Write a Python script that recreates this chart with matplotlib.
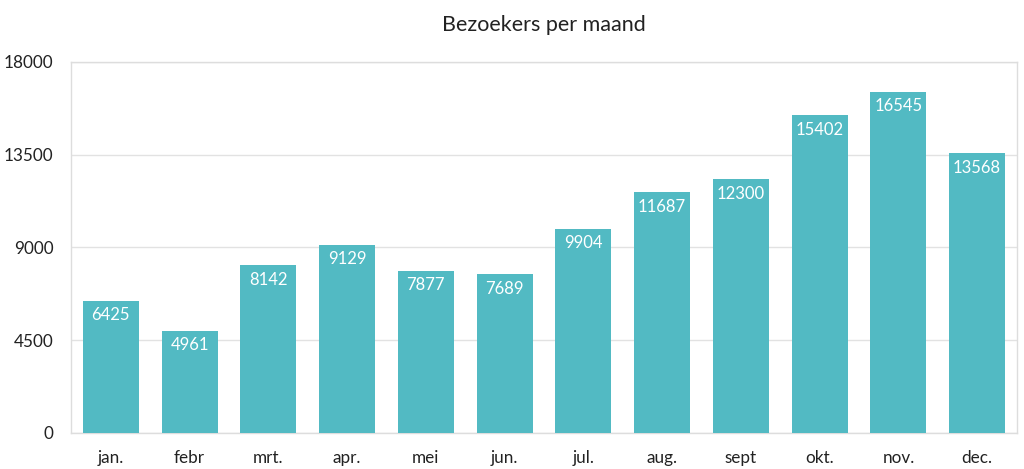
import matplotlib

matplotlib.use("Agg")
import matplotlib.pyplot as plt

plt.rcParams["font.family"] = ["Lato", "DejaVu Sans"]

months = ["jan.", "febr", "mrt.", "apr.", "mei", "jun.", "jul.", "aug.", "sept", "okt.", "nov.", "dec."]
visitors = [6425, 4961, 8142, 9129, 7877, 7689, 9904, 11687, 12300, 15402, 16545, 13568]
y_ticks = [0, 4500, 9000, 13500, 18000]

fig = plt.figure(figsize=(10.24, 4.69), dpi=100)
ax = fig.add_axes([0.0698, 0.0768, 0.9229, 0.7912])

x_positions = range(len(months))
bars = ax.bar(x_positions, visitors, color="#52BAC3", width=0.71, zorder=3)

for bar, value in zip(bars, visitors):
    ax.annotate(
        str(value),
        (bar.get_x() + bar.get_width() / 2, bar.get_height()),
        xytext=(0, -10.5),
        textcoords="offset points",
        ha="center",
        va="center",
        color="white",
        fontsize=12,
        zorder=4,
    )

ax.set_xlim(-0.5, len(months) - 0.5)
ax.set_ylim(0, 18000)
ax.set_yticks(y_ticks)
ax.set_yticklabels([str(t) for t in y_ticks])
ax.set_xticks(list(x_positions))
ax.set_xticklabels(months)
ax.tick_params(axis="both", length=0, labelsize=12.3, colors="#222222")
ax.tick_params(axis="x", pad=12)
ax.tick_params(axis="y", pad=13)

ax.grid(axis="y", color="#E2E2E2", linewidth=1, zorder=0)
for spine in ax.spines.values():
    spine.set_color("#DDDDDD")
    spine.set_linewidth(1)

ax.set_title("Bezoekers per maand", fontsize=15.5, color="#222222", pad=22)

plt.savefig("out.png", dpi=100)
plt.close(fig)
